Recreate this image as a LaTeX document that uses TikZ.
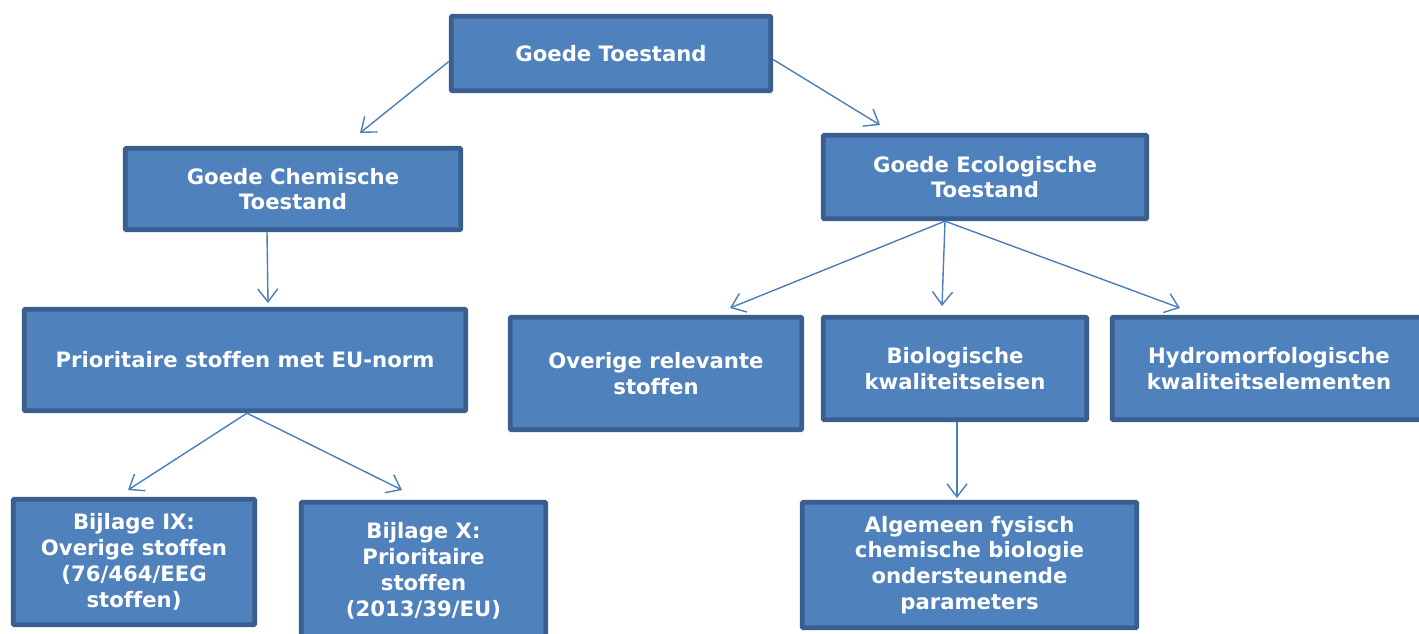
\documentclass[tikz,border=0pt]{standalone}
\usepackage{fontspec}
\setmainfont[Ligatures=NoCommon]{DejaVu Sans}
\usetikzlibrary{arrows.meta}
\definecolor{boxfill}{HTML}{4F81BD}
\definecolor{boxline}{HTML}{3A5F8F}
\definecolor{arrcol}{HTML}{4A7EBB}
\tikzset{
  box/.style={draw=boxline, fill=boxfill, line width=4.8pt, rounded corners=1pt,
    inner sep=0pt, align=center, text=white, font=\fontsize{21.2}{25.8}\selectfont\bfseries},
  arr/.style={draw=arrcol, line width=1.4pt, -{Straight Barb[length=13pt,width=20pt,line width=1.4pt]}}
}
\begin{document}
\begin{tikzpicture}[x=1pt,y=-1pt]
\useasboundingbox (0,0) rectangle (1419,634);
\node[box, minimum width=319.5pt, minimum height=74.5pt] (top) at (611,53.5) {Goede Toestand};
\node[box, minimum width=335.5pt, minimum height=81.5pt] (chem) at (293,189) {Goede Chemische\\Toestand};
\node[box, minimum width=323.5pt, minimum height=83.5pt] (eco) at (985,177) {Goede Ecologische\\Toestand};
\node[box, minimum width=441.5pt, minimum height=101.5pt] (prio) at (245,360) {Prioritaire stoffen met EU-norm};
\node[box, minimum width=291.5pt, minimum height=112.5pt] (over) at (656,373.5) {Overige relevante\\stoffen};
\node[box, minimum width=263.5pt, minimum height=102.5pt] (bio) at (955,368.5) {Biologische\\kwaliteitseisen};
\node[box, minimum width=313.5pt, minimum height=102.5pt] (hydro) at (1269,368.5) {Hydromorfologische\\kwaliteitselementen};
\node[box, minimum width=241.5pt, minimum height=125.5pt] (b9) at (134,562) {Bijlage IX:\\Overige stoffen\\(76/464/EEG\\stoffen)};
\node[box, minimum width=244.5pt, minimum height=137.5pt] (b10) at (423.5,571) {Bijlage X:\\Prioritaire\\stoffen\\(2013/39/EU)};
\node[box, minimum width=334.5pt, minimum height=125.5pt] (alg) at (969.5,565) {Algemeen fysisch\\chemische biologie\\ondersteunende\\parameters};

\coordinate (t1) at (360,133);
\coordinate (t2) at (880,125);
\coordinate (t3) at (268,303);
\coordinate (t4) at (730,308);
\coordinate (t5) at (942,306);
\coordinate (t6) at (1180,308);
\coordinate (t7) at (128,490);
\coordinate (t8) at (402,490);
\coordinate (t9) at (957,498);

\draw[arr] ([yshift=-8pt]top.west) -- (t1);
\draw[arr] ([yshift=-6pt]top.east) -- (t2);
\draw[arr] ([xshift=-26pt]chem.south) -- (t3);
\draw[arr] ([xshift=-40pt]eco.south) -- (t4);
\draw[arr] ([xshift=-40pt]eco.south) -- (t5);
\draw[arr] ([xshift=-40pt]eco.south) -- (t6);
\draw[arr] ([xshift=2pt]prio.south) -- (t7);
\draw[arr] ([xshift=2pt]prio.south) -- (t8);
\draw[arr] ([xshift=2pt]bio.south) -- (t9);
\end{tikzpicture}
\end{document}
